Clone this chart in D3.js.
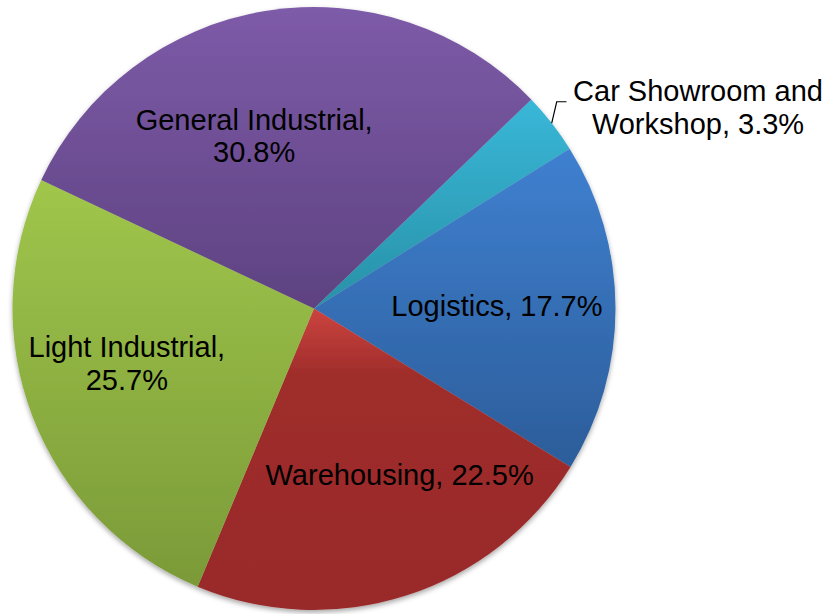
<!DOCTYPE html>
<html>
<head>
<meta charset="utf-8">
<script src="https://cdn.jsdelivr.net/npm/d3@7"></script>
<style>
  html, body { margin: 0; padding: 0; background: #ffffff; }
  svg { display: block; }
</style>
</head>
<body>
<svg id="chart" width="827" height="614"></svg>
<script>
// Share of space by property type (%)
const categories = [
  "Car Showroom and Workshop",
  "Logistics",
  "Warehousing",
  "Light Industrial",
  "General Industrial"
];
const values = [3.3, 17.7, 22.5, 25.7, 30.8];
const labelText = [
  ["Car Showroom and", "Workshop, 3.3%"],
  ["Logistics, 17.7%"],
  ["Warehousing, 22.5%"],
  ["Light Industrial,", "25.7%"],
  ["General Industrial,", "30.8%"]
];
// top / bottom shades of each slice's vertical gradient
const colorTop    = ["#39b7d8", "#3f80d0", "#cc443f", "#a0c64b", "#7d5ba8"];
const colorBottom = ["#2891a7", "#2c5d9a", "#992b2a", "#7a9a38", "#5e4281"];

const svg = d3.select("#chart");
const W = 827, H = 614;
const cx = 314, cy = 308.5, R = 301.5;
const fontSize = 29, lineH = 32.5;

const data = categories.map((c, i) => ({ name: c, value: values[i], i }));

const pie = d3.pie()
  .value(d => d.value)
  .sort(null)
  .startAngle(46.1 * Math.PI / 180)
  .endAngle(46.1 * Math.PI / 180 + 2 * Math.PI);
const arcs = pie(data);

const arc = d3.arc().innerRadius(0).outerRadius(R);
const labelArc = d3.arc().innerRadius(R * 0.62).outerRadius(R * 0.62);
const edgeArc = d3.arc().innerRadius(R).outerRadius(R);

const defs = svg.append("defs");

const shadow = defs.append("filter")
  .attr("id", "pieShadow")
  .attr("x", "-10%").attr("y", "-10%")
  .attr("width", "120%").attr("height", "120%");
shadow.append("feDropShadow")
  .attr("dx", 0).attr("dy", 2.5)
  .attr("stdDeviation", 2.5)
  .attr("flood-color", "#000")
  .attr("flood-opacity", 0.35);

arcs.forEach(a => {
  const g = defs.append("linearGradient")
    .attr("id", "grad" + a.data.i)
    .attr("x1", 0).attr("y1", 0).attr("x2", 0).attr("y2", 1);
  const i = a.data.i;
  if (a.data.name === "Warehousing") {
    g.append("stop").attr("offset", "0%").attr("stop-color", colorTop[i]);
    g.append("stop").attr("offset", "22%").attr("stop-color", "#9f2d2b");
    g.append("stop").attr("offset", "100%").attr("stop-color", colorBottom[i]);
  } else {
    g.append("stop").attr("offset", "0%").attr("stop-color", colorTop[i]);
    g.append("stop").attr("offset", "100%").attr("stop-color", colorBottom[i]);
  }
});

const pieG = svg.append("g")
  .attr("transform", `translate(${cx},${cy})`)
  .attr("filter", "url(#pieShadow)");

pieG.selectAll("path.slice")
  .data(arcs)
  .join("path")
  .attr("class", "slice")
  .attr("d", arc)
  .attr("fill", d => `url(#grad${d.data.i})`);

// label placement: centroid of a ring at 62% radius, shifted to sit like best-fit labels
const labelShift = {
  "Logistics": [-4, -2],
  "Warehousing": [28.5, -11.7],
  "Light Industrial": [-12.7, -12.3],
  "General Industrial": [-29.5, 11.8]
};

const labelsG = svg.append("g")
  .attr("transform", `translate(${cx},${cy})`)
  .attr("font-family", "'Liberation Sans', Arial, Helvetica, sans-serif")
  .attr("font-size", fontSize)
  .attr("fill", "#000");

function drawLabel(lines, x, y) {
  const t = labelsG.append("text").attr("text-anchor", "middle");
  const first = y - (lines.length - 1) * lineH / 2 + 0.35 * fontSize;
  lines.forEach((ln, k) => {
    t.append("tspan").attr("x", x).attr("y", first + k * lineH).text(ln);
  });
}

arcs.forEach(a => {
  const lines = labelText[a.data.i];
  if (a.data.name === "Car Showroom and Workshop") {
    // small slice: label outside with a leader line
    const [ex, ey] = edgeArc.centroid(a);
    const lx = ex + 146.3, ly = ey - 15.8;
    const textLeft = lx - 125.5;
    labelsG.append("polyline")
      .attr("points", [[ex, ey], [ex + 5, ly - 5.5], [textLeft - 6, ly - 5.5]].map(p => p.join(",")).join(" "))
      .attr("fill", "none")
      .attr("stroke", "#000")
      .attr("stroke-width", 1.2);
    drawLabel(lines, lx, ly);
  } else {
    const [x, y] = labelArc.centroid(a);
    const s = labelShift[a.data.name] || [0, 0];
    drawLabel(lines, x + s[0], y + s[1]);
  }
});
</script>
</body>
</html>
